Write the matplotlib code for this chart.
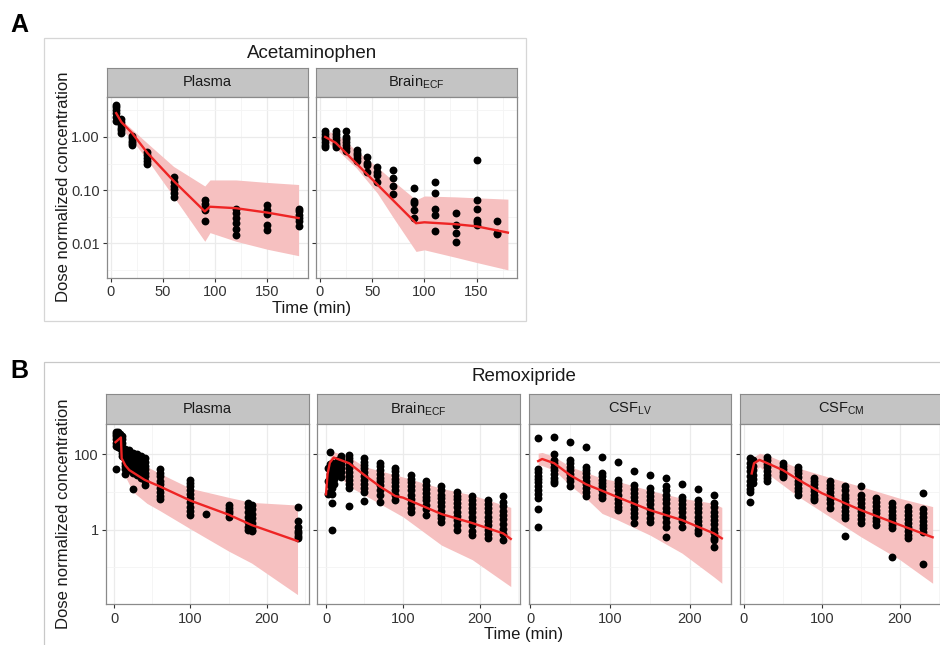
import matplotlib
matplotlib.use('Agg')
import matplotlib.pyplot as plt
from matplotlib.patches import Rectangle
from matplotlib.ticker import FixedLocator, NullFormatter
import numpy as np

plt.rcParams['font.family'] = ['Liberation Sans', 'DejaVu Sans']
plt.rcParams['mathtext.fontset'] = 'custom'
plt.rcParams['mathtext.rm'] = 'Liberation Sans'

W, H = 940, 645

# ---------------- A: Acetaminophen ----------------
apap_plasma_t = [5, 10, 20, 35, 60, 90, 120, 150, 180]
apap_plasma_c = [[4.0, 3.6, 3.2, 2.8, 2.4, 2.0],
                 [2.2, 1.9, 1.7, 1.5, 1.35, 1.2],
                 [1.05, 0.95, 0.85, 0.78, 0.72],
                 [0.52, 0.45, 0.40, 0.35, 0.31],
                 [0.18, 0.14, 0.12, 0.105, 0.09, 0.075],
                 [0.065, 0.055, 0.048, 0.042, 0.027],
                 [0.045, 0.037, 0.030, 0.024, 0.019, 0.0145],
                 [0.052, 0.043, 0.036, 0.022, 0.018],
                 [0.045, 0.040, 0.035, 0.030, 0.027, 0.021]]
apap_plasma_line_t = [5, 10, 20, 35, 60, 90, 95, 120, 150, 180]
apap_plasma_line_c = [2.8, 1.9, 1.2, 0.5, 0.15, 0.04, 0.049, 0.046, 0.038, 0.030]
apap_plasma_band_t = [5, 10, 20, 35, 60, 90, 95, 120, 150, 180]
apap_plasma_lo = [2.5, 1.45, 0.88, 0.37, 0.076, 0.011, 0.016, 0.011, 0.0078, 0.0059]
apap_plasma_hi = [3.0, 2.1, 1.4, 0.76, 0.28, 0.12, 0.156, 0.156, 0.14, 0.128]

apap_brain_t = [5, 15, 25, 35, 45, 55, 70, 90, 110, 130, 150, 170]
apap_brain_c = [[1.3, 1.15, 1.0, 0.9, 0.8, 0.72, 0.65],
                [1.3, 1.15, 1.0, 0.88, 0.78, 0.7, 0.64],
                [1.3, 1.0, 0.9, 0.8, 0.7, 0.62, 0.55],
                [0.57, 0.5, 0.45, 0.4, 0.35],
                [0.42, 0.33, 0.3, 0.22],
                [0.27, 0.22, 0.19, 0.14],
                [0.24, 0.17, 0.12, 0.085],
                [0.108, 0.062, 0.058, 0.042, 0.03],
                [0.14, 0.09, 0.045, 0.034, 0.017],
                [0.038, 0.022, 0.016, 0.0107],
                [0.37, 0.065, 0.045, 0.028, 0.025, 0.022],
                [0.026, 0.016, 0.015]]
apap_brain_line_t = [5, 15, 92, 100, 130, 150, 180]
apap_brain_line_c = [1.0, 0.78, 0.024, 0.025, 0.023, 0.021, 0.016]
apap_brain_band_t = [5, 15, 35, 55, 70, 92, 100, 130, 150, 180]
apap_brain_lo = [0.85, 0.61, 0.26, 0.088, 0.031, 0.0071, 0.0076, 0.0055, 0.0044, 0.0032]
apap_brain_hi = [1.3, 1.17, 0.55, 0.27, 0.15, 0.066, 0.078, 0.075, 0.072, 0.068]

# ---------------- B: Remoxipride ----------------
remox_plasma_t = [2, 5, 8, 10, 15, 20, 25, 30, 35, 40, 60, 100, 120, 150, 175, 180, 240]
remox_plasma_c = [[400, 350, 300, 250, 200, 170, 40],
                  [380, 330, 280, 240, 200, 160],
                  [350, 300, 250, 210, 180, 150],
                  [300, 250, 200, 160, 130, 110, 90],
                  [140, 110, 90, 75, 60, 50, 40, 30],
                  [130, 100, 85, 70, 55, 45, 38],
                  [110, 90, 75, 60, 50, 40, 32, 12],
                  [100, 80, 65, 52, 42, 35, 28],
                  [90, 75, 60, 48, 38, 30, 24],
                  [78, 62, 50, 40, 32, 26, 20, 15],
                  [40, 32, 26, 20, 16, 13, 10, 8, 6.5],
                  [21, 17, 14, 11, 9, 7, 5.5, 4, 3.2, 2.5],
                  [2.6],
                  [4.5, 3.8, 3.2, 2.7, 2.2],
                  [5.2, 4, 3, 2.2, 1.6, 1.2, 1.0],
                  [4.5, 3.5, 2.6, 2.0, 1.5, 1.2, 1.0, 0.9],
                  [3.9, 1.7, 1.2, 0.95, 0.8, 0.7, 0.6]]
remox_plasma_line_t = [2, 9, 10, 15, 20, 40, 60, 100, 150, 180, 240]
remox_plasma_line_c = [210, 280, 78, 50, 38, 21, 14, 5.9, 2.5, 1.33, 0.5]
remox_plasma_band_t = [10, 15, 25, 43, 60, 100, 150, 180, 240]
remox_plasma_lo = [78, 25, 10, 5, 3.2, 1.05, 0.27, 0.13, 0.019]
remox_plasma_hi = [150, 110, 75, 47, 31, 12.5, 7.2, 5.3, 4.5]

remox_brain_t = [2, 5, 8, 10, 15, 20, 30, 50, 70, 90, 110, 130, 150, 170, 190, 210, 230]
remox_brain_c = [[43, 20, 9],
                 [117, 55, 40, 30, 22, 15, 10],
                 [60, 48, 38, 30, 24, 18, 13, 9, 5.2, 1.0],
                 [55, 45, 36, 28, 22, 16],
                 [70, 55, 45, 35, 28],
                 [90, 70, 55, 42, 33, 25],
                 [96, 80, 65, 52, 42, 34, 27, 21, 16, 12.5, 4.3],
                 [78, 64, 52, 42, 34, 27, 21, 16, 12.5, 10, 5.9],
                 [60, 48, 38, 30, 24, 19, 15, 11.5, 8.5, 5.5],
                 [43, 35, 28, 22, 18, 14, 11, 8.5, 6.1],
                 [28, 22, 18, 14, 11, 8.5, 6.5, 5, 3.8, 3.0],
                 [19, 15, 12, 9.5, 7.5, 6, 4.6, 3.5, 2.5],
                 [14, 11, 8.5, 6.8, 5.3, 4.2, 3.2, 2.5, 2.0, 1.6],
                 [10, 8, 6.4, 5, 3.9, 3, 2.3, 1.8, 1.3, 1.0],
                 [7.8, 6, 4.7, 3.7, 2.9, 2.2, 1.7, 1.3, 0.95, 0.72],
                 [6.1, 4.8, 3.7, 2.9, 2.2, 1.7, 1.3, 1.0, 0.75, 0.59],
                 [7.8, 5.5, 4.2, 3.2, 2.5, 1.9, 1.4, 1.05, 0.75, 0.53]]
remox_brain_line_t = [0, 2, 5, 10, 30, 50, 70, 90, 100, 150, 190, 230, 240]
remox_brain_line_c = [8.7, 30, 60, 82, 58, 28, 14, 7.8, 7.1, 2.6, 1.5, 0.8, 0.57]
remox_brain_band_t = [0, 5, 10, 30, 50, 100, 150, 190, 240]
remox_brain_lo = [6, 20, 38, 14, 8.3, 2.2, 0.39, 0.16, 0.031]
remox_brain_hi = [12, 80, 117, 85, 47, 25, 12.5, 8.3, 3.9]

remox_lv_t = [10, 30, 50, 70, 90, 110, 130, 150, 170, 190, 210, 230]
remox_lv_c = [[265, 40, 33, 27, 22, 18, 14.5, 11.5, 9, 6.8, 3.5, 1.2],
              [295, 100, 71, 58, 47, 38, 30, 24, 20, 17],
              [208, 71, 58, 47, 38, 30, 24, 19, 14],
              [155, 47, 38, 31, 25, 20, 16, 12.5, 10, 7.8],
              [87, 31, 26, 21, 17, 14, 11, 8.5, 6.8],
              [61, 21, 17, 14, 11, 8.5, 6.5, 5, 4, 3.3],
              [36, 15, 12, 9.5, 7.5, 5.8, 4.5, 3.5, 2.7, 2.2, 1.5],
              [29, 12.5, 10, 7.8, 6, 4.7, 3.6, 2.8, 2.1, 1.6],
              [23, 14, 11, 8.5, 6.5, 5, 3.8, 2.9, 2.2, 1.6, 1.2, 0.63],
              [16, 7.5, 6, 4.7, 3.7, 2.9, 2.2, 1.7, 1.15],
              [11.8, 6.1, 4.8, 3.7, 2.9, 2.2, 1.7, 1.3, 1.0, 0.8],
              [8.3, 5, 3.9, 3, 2.3, 1.8, 1.4, 1.05, 0.8, 0.6, 0.53, 0.34]]
remox_lv_line_t = [10, 15, 30, 50, 70, 90, 110, 150, 190, 230, 240]
remox_lv_line_c = [66, 75, 58, 28, 16, 10.8, 7.2, 3.3, 1.8, 0.8, 0.59]
remox_lv_band_t = [10, 15, 30, 50, 70, 90, 110, 150, 190, 230, 240]
remox_lv_lo = [52, 50, 38, 15, 6.8, 2.7, 1.8, 0.72, 0.24, 0.056, 0.038]
remox_lv_hi = [107, 112, 87, 47, 33, 23, 19, 11, 6.8, 5, 3.9]

remox_cm_t = [8, 12, 30, 50, 70, 90, 110, 130, 150, 170, 190, 210, 230]
remox_cm_c = [[78, 60, 45, 35, 27, 20, 15, 12, 10, 5.5],
              [70, 50, 38, 28, 22, 17],
              [87, 70, 56, 45, 36, 29, 23, 19],
              [58, 48, 40, 33, 28, 25],
              [47, 38, 31, 25, 20, 16, 13, 10.5, 8.3],
              [23, 19, 16, 13, 10.5, 8.5, 7, 6.1],
              [19, 15.5, 12.5, 10, 8, 6.5, 5, 3.7],
              [14, 11, 8.5, 6.8, 5.3, 4.1, 3.2, 2.5, 2.0, 0.68],
              [14.5, 8.3, 6.6, 5.2, 4.1, 3.2, 2.5, 1.9, 1.5],
              [6.8, 5.4, 4.3, 3.4, 2.7, 2.1, 1.7, 1.33],
              [5, 4, 3.2, 2.5, 2, 1.6, 1.3, 1.1, 0.19],
              [4.1, 3.2, 2.5, 1.9, 1.5, 1.15, 0.9, 0.72, 0.59],
              [9.6, 3.5, 2.8, 2.2, 1.7, 1.35, 1.1, 0.89, 0.12]]
remox_cm_line_t = [10, 13, 20, 30, 50, 70, 100, 150, 190, 242]
remox_cm_line_c = [31, 58, 71, 58, 38, 21, 9.3, 3.3, 1.6, 0.63]
remox_cm_band_t = [10, 20, 30, 70, 100, 150, 200, 242]
remox_cm_lo = [28, 47, 31, 7.5, 3, 0.65, 0.16, 0.038]
remox_cm_hi = [78, 107, 95, 43, 28, 14, 6.8, 4.1]

BAND = '#F6C0C0'
LINE = '#EE2424'
SPINE = '#8A8A8A'
GRID = '#EBEBEB'
TXT = '#1A1A1A'

fig = plt.figure(figsize=(W / 100, H / 100), dpi=100)


def px_axes(x0, y0, x1, y1):
    return fig.add_axes([x0 / W, 1 - y1 / H, (x1 - x0) / W, (y1 - y0) / H])


def ftext(x, y, s, **kw):
    fig.text(x / W, 1 - y / H, s, **kw)


def strip(x0, x1, y0, y1, label):
    sa = px_axes(x0, y0, x1, y1)
    sa.set_facecolor('#C4C4C4')
    sa.set_xticks([])
    sa.set_yticks([])
    for sp in sa.spines.values():
        sp.set_color(SPINE)
        sp.set_linewidth(0.8)
    sa.text(0.5, 0.5, label, ha='center', va='center', fontsize=10.5,
            color=TXT, transform=sa.transAxes)


def panel(box, label, xlim, xmaj, xmin, ylim, ymaj, ymin, ylabels,
          times, conc, lt, lc, bt, blo, bhi, strip_top):
    x0, y0, x1, y1 = box
    strip(x0, x1, strip_top, y0, label)
    ax = px_axes(x0, y0, x1, y1)
    ax.set_yscale('log')
    ax.set_xlim(xlim)
    ax.set_ylim(ylim)
    ax.xaxis.set_major_locator(FixedLocator(xmaj))
    ax.xaxis.set_minor_locator(FixedLocator(xmin))
    ax.yaxis.set_major_locator(FixedLocator(ymaj))
    ax.yaxis.set_minor_locator(FixedLocator(ymin))
    ax.yaxis.set_minor_formatter(NullFormatter())
    ax.set_xticklabels([str(v) for v in xmaj])
    if ylabels is None:
        ax.tick_params(axis='y', which='major', labelleft=False, length=0)
    else:
        ax.set_yticklabels(ylabels)
    ax.grid(True, which='major', color=GRID, lw=0.9)
    ax.grid(True, which='minor', color='#F4F4F4', lw=0.6)
    ax.set_axisbelow(True)
    ax.tick_params(which='major', length=2.8, width=0.8, color='#333333',
                   labelsize=10.5, labelcolor='#333333', pad=2.5)
    ax.tick_params(which='minor', length=0)
    for sp in ax.spines.values():
        sp.set_color(SPINE)
        sp.set_linewidth(0.9)
    ax.fill_between(bt, blo, bhi, color=BAND, lw=0, zorder=1)
    xs = [t for t, vals in zip(times, conc) for _ in vals]
    ys = [v for vals in conc for v in vals]
    ax.scatter(xs, ys, s=32, color='black', linewidths=0, zorder=3)
    ax.plot(lt, lc, color=LINE, lw=1.7, zorder=4)
    return ax


# frames around the two figure parts
fig.patches.append(Rectangle((44 / W, 1 - 321 / H), (526 - 44) / W, (321 - 38) / H,
                             transform=fig.transFigure, fill=False,
                             edgecolor='#D6D6D6', lw=0.9))
fig.patches.append(Rectangle((44 / W, 1 - 700 / H), (990 - 44) / W, (700 - 362) / H,
                             transform=fig.transFigure, fill=False,
                             edgecolor='#C8C8C8', lw=0.9))

# ---- A ----
a_xlim = (-3.8, 189)
a_ylim = (0.00225, 5.7)
a_ymaj = [0.01, 0.1, 1.0]
a_ymin = [10 ** -2.5, 10 ** -1.5, 10 ** -0.5, 10 ** 0.5]
panel((107, 96.7, 308, 278), 'Plasma', a_xlim, [0, 50, 100, 150], [25, 75, 125, 175],
      a_ylim, a_ymaj, a_ymin, ['0.01', '0.10', '1.00'],
      apap_plasma_t, apap_plasma_c, apap_plasma_line_t, apap_plasma_line_c,
      apap_plasma_band_t, apap_plasma_lo, apap_plasma_hi, 68.3)
panel((316, 96.7, 517.3, 278), r'Brain$_{\mathregular{ECF}}$', a_xlim,
      [0, 50, 100, 150], [25, 75, 125, 175], a_ylim, a_ymaj, a_ymin, None,
      apap_brain_t, apap_brain_c, apap_brain_line_t, apap_brain_line_c,
      apap_brain_band_t, apap_brain_lo, apap_brain_hi, 68.3)

ftext(19, 25, 'A', fontsize=18, fontweight='bold', ha='center', va='center')
ftext(312, 53, 'Acetaminophen', fontsize=13.5, ha='center', va='center', color=TXT)
ftext(312, 309, 'Time (min)', fontsize=12, ha='center', va='center', color=TXT)
ftext(63, 187, 'Dose normalized concentration', fontsize=12, rotation=90,
      ha='center', va='center', color=TXT)

# ---- B ----
b_ylim = (0.0105, 636)
b_ymaj = [1, 100]
b_ymin = [0.1, 10]
b_xmaj = [0, 100, 200]
b_xmin = [50, 150, 250]
panel((106, 424, 309, 604.3), 'Plasma', (-10.5, 255), b_xmaj, b_xmin,
      b_ylim, b_ymaj, b_ymin, ['1', '100'],
      remox_plasma_t, remox_plasma_c, remox_plasma_line_t, remox_plasma_line_c,
      remox_plasma_band_t, remox_plasma_lo, remox_plasma_hi, 394)
panel((317, 424, 520, 604.3), r'Brain$_{\mathregular{ECF}}$', (-11.7, 252), b_xmaj, b_xmin,
      b_ylim, b_ymaj, b_ymin, None,
      remox_brain_t, remox_brain_c, remox_brain_line_t, remox_brain_line_c,
      remox_brain_band_t, remox_brain_lo, remox_brain_hi, 394)
panel((529, 424, 731, 604.3), r'CSF$_{\mathregular{LV}}$', (-1.5, 251.5), b_xmaj, b_xmin,
      b_ylim, b_ymaj, b_ymin, None,
      remox_lv_t, remox_lv_c, remox_lv_line_t, remox_lv_line_c,
      remox_lv_band_t, remox_lv_lo, remox_lv_hi, 394)
panel((740, 424, 942, 604.3), r'CSF$_{\mathregular{CM}}$', (-5, 254), b_xmaj, b_xmin,
      b_ylim, b_ymaj, b_ymin, None,
      remox_cm_t, remox_cm_c, remox_cm_line_t, remox_cm_line_c,
      remox_cm_band_t, remox_cm_lo, remox_cm_hi, 394)

ftext(19, 371, 'B', fontsize=18, fontweight='bold', ha='center', va='center')
ftext(524, 377, 'Remoxipride', fontsize=13.5, ha='center', va='center', color=TXT)
ftext(524, 635, 'Time (min)', fontsize=12, ha='center', va='center', color=TXT)
ftext(63, 514, 'Dose normalized concentration', fontsize=12, rotation=90,
      ha='center', va='center', color=TXT)

fig.savefig('out.png', dpi=100)
